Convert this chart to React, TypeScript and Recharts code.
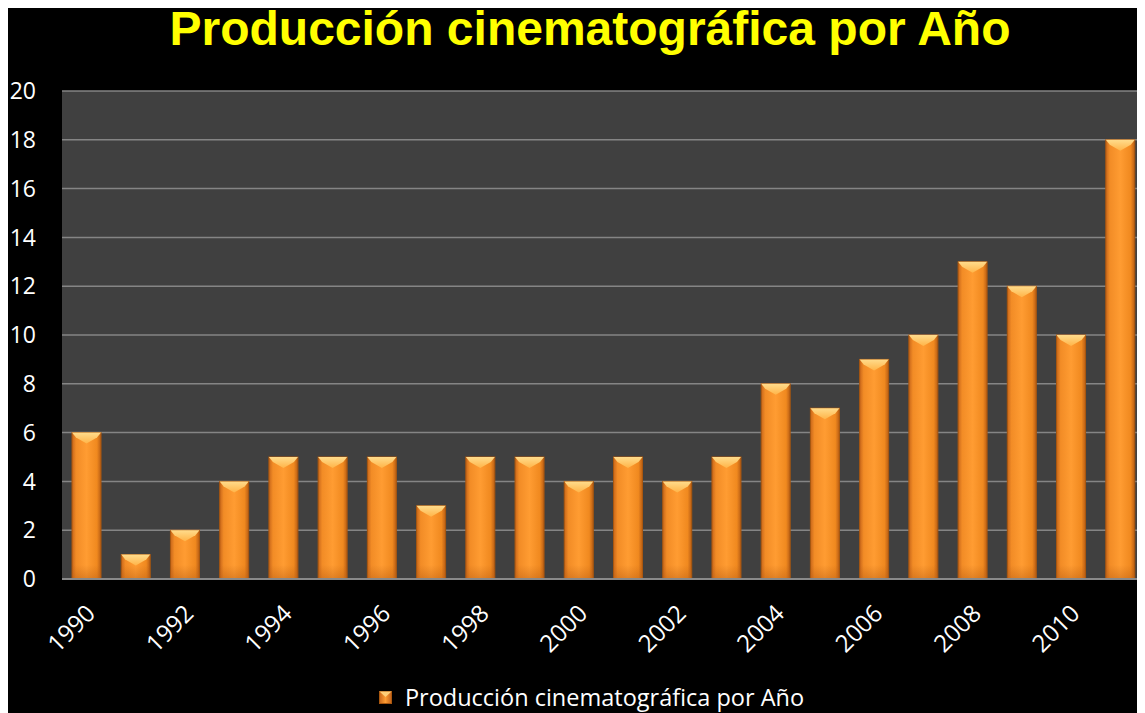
import { BarChart, Bar, XAxis, YAxis, CartesianGrid, Legend } from "recharts";

const years = [
  "1990", "1991", "1992", "1993", "1994", "1995", "1996", "1997", "1998", "1999", "2000",
  "2001", "2002", "2003", "2004", "2005", "2006", "2007", "2008", "2009", "2010", "2011",
];
const films = [6, 1, 2, 4, 5, 5, 5, 3, 5, 5, 4, 5, 4, 5, 8, 7, 9, 10, 13, 12, 10, 18];
const yTicks = [0, 2, 4, 6, 8, 10, 12, 14, 16, 18, 20];

const seriesName = "Producción cinematográfica por Año";
const data = years.map((year, i) => ({ year, value: films[i] }));

const FONT = "'Open Sans', sans-serif";

// bar with a beveled top, like the office 3D-ish style
const BevelBar = (props: any) => {
  const { x, y, width, height } = props;
  if (!height || height <= 0) return null;
  const b = Math.min(11, height / 2);
  return (
    <g>
      <rect x={x} y={y} width={width} height={height} fill="url(#barBody)" stroke="#a9570f" strokeWidth={1} />
      <rect x={x} y={y + height - 14} width={width} height={14} fill="url(#barFoot)" />
      <polygon
        points={`${x},${y} ${x + width},${y} ${x + width - 4},${y + 5} ${x + width / 2},${y + b} ${x + 4},${y + 5}`}
        fill="url(#barTop)"
      />
    </g>
  );
};

const YearTick = (props: any) => {
  const { x, y, payload } = props;
  const ax = x + 10;
  const ay = y + 28;
  return (
    <text
      x={ax}
      y={ay}
      transform={`rotate(-45, ${ax}, ${ay})`}
      textAnchor="end"
      fill="#ffffff"
      fontSize={24}
      fontFamily={FONT}
    >
      {payload.value}
    </text>
  );
};

const LegendBox = () => (
  <div
    style={{
      height: 40,
      display: "flex",
      justifyContent: "center",
      alignItems: "center",
      paddingLeft: 30,
      paddingTop: 6,
      boxSizing: "border-box",
      fontFamily: FONT,
      fontSize: 23.5,
      color: "#ffffff",
    }}
  >
    <svg width={13} height={13} style={{ marginRight: 13 }}>
      <rect x={0.5} y={0.5} width={12} height={12} fill="url(#legendBody)" stroke="#a9570f" />
      <polygon points="0.5,0.5 12.5,0.5 6.5,6" fill="#ffcf78" />
    </svg>
    <span>{seriesName}</span>
  </div>
);

export default function App() {
  return (
    <div style={{ position: "relative", width: 1137, height: 706, background: "#000000" }}>
      <div
        style={{
          position: "absolute",
          top: -3,
          left: 0,
          width: 1137,
          paddingLeft: 27,
          boxSizing: "border-box",
          textAlign: "center",
          fontFamily: "'Liberation Sans', Arial, sans-serif",
          fontWeight: "bold",
          fontSize: 48,
          lineHeight: "48px",
          color: "#ffff00",
          zIndex: 2,
        }}
      >
        {seriesName}
      </div>
      <svg width={0} height={0} style={{ position: "absolute" }}>
        <defs>
          <linearGradient id="legendBody" x1="0" y1="0" x2="1" y2="0">
            <stop offset="0%" stopColor="#c9671a" />
            <stop offset="50%" stopColor="#ff9d33" />
            <stop offset="100%" stopColor="#c2621a" />
          </linearGradient>
        </defs>
      </svg>
      <BarChart width={1137} height={706} data={data} margin={{ top: 83, right: 0, left: 0, bottom: 0 }} barSize={29}>
        <defs>
          <linearGradient id="barBody" x1="0" y1="0" x2="1" y2="0">
            <stop offset="0%" stopColor="#c8661a" />
            <stop offset="14%" stopColor="#f28c26" />
            <stop offset="50%" stopColor="#ff9c32" />
            <stop offset="86%" stopColor="#f0891f" />
            <stop offset="100%" stopColor="#b85d14" />
          </linearGradient>
          <linearGradient id="barTop" x1="0" y1="0" x2="0" y2="1">
            <stop offset="0%" stopColor="#ffdc8c" />
            <stop offset="100%" stopColor="#ffb448" />
          </linearGradient>
          <linearGradient id="barFoot" x1="0" y1="0" x2="0" y2="1">
            <stop offset="0%" stopColor="#b85d14" stopOpacity={0} />
            <stop offset="100%" stopColor="#b85d14" stopOpacity={0.45} />
          </linearGradient>
        </defs>
        <CartesianGrid vertical={false} stroke="#858585" strokeWidth={1.5} fill="#404040" />
        <XAxis
          dataKey="year"
          interval={1}
          height={95}
          tick={<YearTick />}
          tickLine={false}
          axisLine={{ stroke: "#8a8a8a", strokeWidth: 2 }}
        />
        <YAxis
          domain={[0, 20]}
          ticks={yTicks}
          width={54}
          axisLine={false}
          tickLine={false}
          tickSize={0}
          tickMargin={26}
          tick={{ fill: "#ffffff", fontSize: 23, fontFamily: FONT }}
        />
        <Legend verticalAlign="bottom" content={<LegendBox />} />
        <Bar dataKey="value" name={seriesName} shape={<BevelBar />} isAnimationActive={false} />
      </BarChart>
    </div>
  );
}
